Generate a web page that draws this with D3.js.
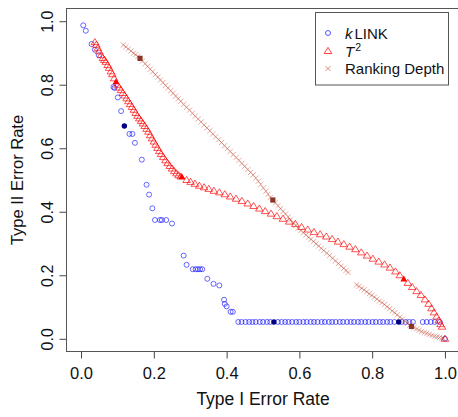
<!DOCTYPE html>
<html>
<head>
<meta charset="utf-8">
<script src="https://cdn.jsdelivr.net/npm/d3@7/dist/d3.min.js"></script>
<style>
  body { margin: 0; background: #fff; }
  svg { display: block; font-family: 'Liberation Sans', Arial, sans-serif; }
  .axis text { fill: #111; }
  .axis line { stroke: #444; }
</style>
</head>
<body>
<div id="plot"></div>
<script>
// kLINK (blue open circles)
var klinkX = [0.006, 0.013, 0.029, 0.038, 0.049, 0.089, 0.092, 0.101, 0.110, 0.133, 0.141, 0.148, 0.167,
  0.180, 0.187, 0.196, 0.203, 0.217, 0.222, 0.234, 0.250, 0.282, 0.290, 0.307, 0.315, 0.321, 0.327, 0.333,
  0.347, 0.364, 0.380, 0.393, 0.395, 0.400, 0.411, 0.417,
  0.432, 0.441, 0.452, 0.462, 0.471, 0.480, 0.491, 0.500, 0.511, 0.520, 0.541, 0.551, 0.561, 0.570,
  0.580, 0.591, 0.600, 0.611, 0.620, 0.631, 0.640, 0.650, 0.661, 0.670, 0.681, 0.690, 0.700, 0.711,
  0.720, 0.731, 0.741, 0.750, 0.761, 0.770, 0.781, 0.790, 0.801, 0.810, 0.821, 0.830, 0.841, 0.850,
  0.861, 0.881, 0.892, 0.902, 0.912, 0.939, 0.950, 0.961, 0.972, 0.986, 1.000]
var klinkY = [0.987, 0.970, 0.928, 0.910, 0.893, 0.793, 0.790, 0.760, 0.717, 0.645, 0.645, 0.617, 0.564,
  0.485, 0.454, 0.411, 0.374, 0.374, 0.374, 0.374, 0.363, 0.262, 0.233, 0.219, 0.219, 0.219, 0.219, 0.219,
  0.189, 0.173, 0.168, 0.123, 0.110, 0.102, 0.085, 0.085,
  0.053, 0.053, 0.053, 0.053, 0.053, 0.053, 0.053, 0.053, 0.053, 0.053, 0.053, 0.053, 0.053, 0.053,
  0.053, 0.053, 0.053, 0.053, 0.053, 0.053, 0.053, 0.053, 0.053, 0.053, 0.053, 0.053, 0.053, 0.053,
  0.053, 0.053, 0.053, 0.053, 0.053, 0.053, 0.053, 0.053, 0.053, 0.053, 0.053, 0.053, 0.053, 0.053,
  0.053, 0.053, 0.053, 0.053, 0.053, 0.053, 0.053, 0.053, 0.053, 0.053, 0.000]
var klinkMarkX = [0.119, 0.530, 0.873]
var klinkMarkY = [0.670, 0.053, 0.053]

// T^2 (red open triangles)
var t2X = [0.038, 0.042, 0.046, 0.050, 0.055, 0.060, 0.064, 0.068, 0.073, 0.077, 0.082, 0.086, 0.091,
  0.100, 0.105, 0.110, 0.115, 0.120, 0.125, 0.130, 0.135, 0.140, 0.145, 0.150, 0.155, 0.160,
  0.165, 0.170, 0.175, 0.180, 0.185, 0.190, 0.195, 0.200, 0.205, 0.210, 0.215, 0.220, 0.226, 0.232,
  0.238, 0.244, 0.250, 0.256, 0.262, 0.268, 0.274, 0.290, 0.301, 0.313, 0.325, 0.338, 0.351,
  0.365, 0.380, 0.395, 0.410, 0.426, 0.442, 0.458, 0.474, 0.490, 0.506, 0.522, 0.538, 0.555, 0.572,
  0.589, 0.606, 0.623, 0.640, 0.657, 0.674, 0.690, 0.706, 0.722, 0.738, 0.754, 0.770, 0.786, 0.802,
  0.818, 0.834, 0.849, 0.864, 0.876, 0.898, 0.910, 0.922, 0.934, 0.945, 0.955, 0.963, 0.970,
  0.977, 0.983, 0.988, 0.992, 1.000]
var t2Y = [0.934, 0.926, 0.915, 0.905, 0.893, 0.884, 0.878, 0.872, 0.862, 0.853, 0.842, 0.833, 0.820,
  0.800, 0.791, 0.783, 0.774, 0.766, 0.757, 0.748, 0.739, 0.730, 0.721, 0.711, 0.702, 0.694,
  0.686, 0.678, 0.670, 0.661, 0.652, 0.641, 0.631, 0.621, 0.611, 0.601, 0.591, 0.582, 0.572, 0.562,
  0.553, 0.544, 0.536, 0.528, 0.521, 0.515, 0.511, 0.500, 0.494, 0.488, 0.482, 0.477, 0.472,
  0.466, 0.461, 0.455, 0.448, 0.441, 0.434, 0.426, 0.418, 0.410, 0.402, 0.394, 0.386, 0.378, 0.369,
  0.361, 0.352, 0.344, 0.336, 0.329, 0.322, 0.314, 0.306, 0.298, 0.290, 0.282, 0.272, 0.262, 0.252,
  0.243, 0.234, 0.224, 0.212, 0.200, 0.176, 0.163, 0.150, 0.138, 0.124, 0.110, 0.096, 0.083,
  0.070, 0.058, 0.046, 0.038, 0.000]
var t2MarkX = [0.096, 0.277, 0.887]
var t2MarkY = [0.809, 0.510, 0.188]

// Ranking Depth (brown crosses)
var rdX = [0.116, 0.123, 0.130, 0.137, 0.144, 0.150, 0.156, 0.169, 0.176, 0.183, 0.190, 0.197, 0.204,
  0.211, 0.218, 0.225, 0.232, 0.239, 0.246, 0.253, 0.260, 0.267, 0.274, 0.282, 0.290, 0.298, 0.306,
  0.314, 0.322, 0.330, 0.338, 0.346, 0.354, 0.362, 0.370, 0.378, 0.386, 0.394, 0.402, 0.410, 0.418,
  0.426, 0.434, 0.442, 0.450, 0.458, 0.466, 0.473, 0.480, 0.487, 0.494, 0.501, 0.508, 0.514, 0.520,
  0.534, 0.541, 0.548, 0.555, 0.562, 0.569, 0.576, 0.583, 0.590, 0.597, 0.604, 0.611, 0.618, 0.625,
  0.632, 0.639, 0.646, 0.653, 0.660, 0.667, 0.675, 0.683, 0.691, 0.699, 0.707, 0.715, 0.722, 0.728,
  0.734, 0.757, 0.764, 0.771, 0.778, 0.785, 0.792, 0.799, 0.806, 0.813, 0.820, 0.827, 0.834, 0.841,
  0.848, 0.855, 0.862, 0.869, 0.876, 0.883, 0.890, 0.897, 0.904, 0.915, 0.922, 0.929, 0.936, 0.943,
  0.950, 0.957, 0.964, 0.971, 0.978, 0.985, 0.992, 0.996]
var rdY = [0.925, 0.919, 0.913, 0.906, 0.899, 0.895, 0.889, 0.875, 0.866, 0.858, 0.849, 0.841, 0.832,
  0.824, 0.815, 0.807, 0.798, 0.790, 0.781, 0.773, 0.764, 0.756, 0.748, 0.738, 0.729, 0.720, 0.710,
  0.701, 0.692, 0.683, 0.673, 0.664, 0.655, 0.645, 0.636, 0.627, 0.618, 0.608, 0.599, 0.590, 0.580,
  0.571, 0.562, 0.552, 0.543, 0.533, 0.524, 0.516, 0.506, 0.496, 0.486, 0.475, 0.465, 0.455, 0.445,
  0.428, 0.419, 0.410, 0.401, 0.393, 0.384, 0.375, 0.366, 0.357, 0.349, 0.341, 0.334, 0.327, 0.320,
  0.313, 0.306, 0.299, 0.292, 0.285, 0.278, 0.270, 0.262, 0.254, 0.245, 0.237, 0.229, 0.222, 0.215,
  0.209, 0.170, 0.165, 0.159, 0.154, 0.148, 0.142, 0.137, 0.131, 0.125, 0.119, 0.114, 0.108, 0.101,
  0.095, 0.088, 0.082, 0.075, 0.068, 0.062, 0.055, 0.049, 0.043, 0.035, 0.031, 0.027, 0.023, 0.020,
  0.017, 0.014, 0.011, 0.008, 0.006, 0.004, 0.002, 0.001]
var rdMarkX = [0.162, 0.527, 0.908]
var rdMarkY = [0.883, 0.437, 0.039]

var tickValues = [0, 0.2, 0.4, 0.6, 0.8, 1.0]
var legendLabels = ['kLINK', 'T2', 'Ranking Depth']

var width = 458
var height = 417
var plotLeft = 66.5, plotRight = 459.5, plotTop = 8.5, plotBottom = 351.5

var xScale = d3.scaleLinear().domain([-0.04, 1.04]).range([plotLeft, plotRight])
var yScale = d3.scaleLinear().domain([-0.04, 1.04]).range([plotBottom, plotTop])

function zip(xs, ys) {
  return xs.map(function(x, i) { return { x: x, y: ys[i] } })
}

var triPath = 'M0,-3.6L3.8,2.5L-3.8,2.5Z'
var crossPath = 'M-2.6,-2.6L2.6,2.6M-2.6,2.6L2.6,-2.6'

var svg = d3
  .select('#plot')
  .append('svg')
  .attr('width', width)
  .attr('height', height)

// axes
var xAxis = d3.axisBottom(xScale)
  .tickValues(tickValues)
  .tickFormat(d3.format('.1f'))
  .tickSize(7)
  .tickPadding(9)
var yAxis = d3.axisLeft(yScale)
  .tickValues(tickValues)
  .tickFormat(d3.format('.1f'))
  .tickSize(7)

var gx = svg.append('g')
  .attr('class', 'axis')
  .attr('transform', 'translate(0,' + plotBottom + ')')
  .call(xAxis)
gx.select('.domain').remove()
gx.selectAll('text').style('font-size', '16.5px').style('font-family', null)

var gy = svg.append('g')
  .attr('class', 'axis')
  .attr('transform', 'translate(' + plotLeft + ',0)')
  .call(yAxis)
gy.select('.domain').remove()
gy.selectAll('text')
  .attr('transform', 'rotate(-90)')
  .attr('x', 0)
  .attr('y', -14)
  .attr('dy', 0)
  .style('text-anchor', 'middle')
  .style('font-size', '16px')
  .style('font-family', null)

svg.append('rect')
  .attr('x', plotLeft)
  .attr('y', plotTop)
  .attr('width', plotRight - plotLeft)
  .attr('height', plotBottom - plotTop)
  .style('fill', 'none')
  .style('stroke', '#555')

svg.append('text')
  .attr('x', (plotLeft + plotRight) / 2)
  .attr('y', 405)
  .style('text-anchor', 'middle')
  .style('font-size', '17.5px')
  .style('fill', '#111')
  .text('Type I Error Rate')

svg.append('text')
  .attr('transform', 'translate(23,' + (plotTop + plotBottom) / 2 + ') rotate(-90)')
  .style('text-anchor', 'middle')
  .style('font-size', '16.5px')
  .style('fill', '#111')
  .text('Type II Error Rate')

// series
svg.append('g')
  .selectAll('circle')
  .data(zip(klinkX, klinkY))
  .enter()
  .append('circle')
  .attr('cx', function(d) { return xScale(d.x) })
  .attr('cy', function(d) { return yScale(d.y) })
  .attr('r', 2.5)
  .style('fill', 'none')
  .style('stroke', '#0000ff')
  .style('stroke-opacity', 0.65)
  .style('stroke-width', 0.9)

svg.append('g')
  .selectAll('path')
  .data(zip(t2X, t2Y))
  .enter()
  .append('path')
  .attr('d', triPath)
  .attr('transform', function(d) { return 'translate(' + xScale(d.x) + ',' + yScale(d.y) + ')' })
  .style('fill', 'none')
  .style('stroke', '#ff0000')
  .style('stroke-opacity', 0.75)
  .style('stroke-width', 0.9)

svg.append('g')
  .selectAll('path')
  .data(zip(rdX, rdY))
  .enter()
  .append('path')
  .attr('d', crossPath)
  .attr('transform', function(d) { return 'translate(' + xScale(d.x) + ',' + yScale(d.y) + ')' })
  .style('fill', 'none')
  .style('stroke', '#c04830')
  .style('stroke-opacity', 0.5)
  .style('stroke-width', 0.9)

// highlighted points
svg.append('g')
  .selectAll('circle')
  .data(zip(klinkMarkX, klinkMarkY))
  .enter()
  .append('circle')
  .attr('cx', function(d) { return xScale(d.x) })
  .attr('cy', function(d) { return yScale(d.y) })
  .attr('r', 2.7)
  .style('fill', '#000080')

svg.append('g')
  .selectAll('path')
  .data(zip(t2MarkX, t2MarkY))
  .enter()
  .append('path')
  .attr('d', 'M0,-3.5L3.4,2.5L-3.4,2.5Z')
  .attr('transform', function(d) { return 'translate(' + xScale(d.x) + ',' + yScale(d.y) + ')' })
  .style('fill', '#ff0000')

svg.append('g')
  .selectAll('rect')
  .data(zip(rdMarkX, rdMarkY))
  .enter()
  .append('rect')
  .attr('x', function(d) { return xScale(d.x) - 2.6 })
  .attr('y', function(d) { return yScale(d.y) - 2.6 })
  .attr('width', 5.2)
  .attr('height', 5.2)
  .style('fill', '#8b3525')

// legend
var legend = svg.append('g')
legend.append('rect')
  .attr('x', 315.5)
  .attr('y', 12.5)
  .attr('width', 133)
  .attr('height', 72.5)
  .style('fill', '#fff')
  .style('stroke', '#555')

var rows = [33, 51, 68.5]
legend.append('circle')
  .attr('cx', 328).attr('cy', rows[0]).attr('r', 2.5)
  .style('fill', 'none').style('stroke', '#0000ff').style('stroke-opacity', 0.65)
legend.append('path')
  .attr('d', triPath).attr('transform', 'translate(328,' + rows[1] + ')')
  .style('fill', 'none').style('stroke', '#ff0000').style('stroke-opacity', 0.75)
legend.append('path')
  .attr('d', crossPath).attr('transform', 'translate(328,' + rows[2] + ')')
  .style('fill', 'none').style('stroke', '#c04830').style('stroke-opacity', 0.6)

var t0 = legend.append('text').attr('x', 345).attr('y', rows[0] + 5.5).style('font-size', '15px').style('fill', '#111')
t0.append('tspan').style('font-style', 'italic').text(legendLabels[0].slice(0, 1))
t0.append('tspan').attr('dx', 2).text(legendLabels[0].slice(1))

var t1 = legend.append('text').attr('x', 345).attr('y', rows[1] + 5.5).style('font-size', '15px').style('fill', '#111')
t1.append('tspan').style('font-style', 'italic').text(legendLabels[1].slice(0, 1))
t1.append('tspan').attr('dy', -6).attr('dx', 1).style('font-size', '10.5px').text(legendLabels[1].slice(1))

legend.append('text').attr('x', 345).attr('y', rows[2] + 5.5).style('font-size', '15px').style('fill', '#111')
  .text(legendLabels[2])
</script>
</body>
</html>
